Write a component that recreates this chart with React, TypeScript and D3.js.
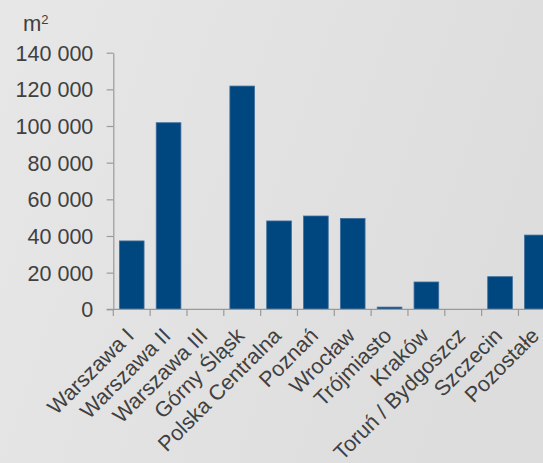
import React, { useEffect, useRef } from "react";
import * as d3 from "d3";

const categories = [
  "Warszawa I",
  "Warszawa II",
  "Warszawa III",
  "Górny Śląsk",
  "Polska Centralna",
  "Poznań",
  "Wrocław",
  "Trójmiasto",
  "Kraków",
  "Toruń / Bydgoszcz",
  "Szczecin",
  "Pozostałe",
];
const values = [37300, 101800, 0, 121800, 48200, 50900, 49600, 1200, 14900, 0, 17800, 40500];
const yTicks = [0, 20000, 40000, 60000, 80000, 100000, 120000, 140000];
const unitLabel = "m";
const unitSup = "2";

const W = 543;
const H = 463;
const FONT = "'Liberation Sans', Arial, Helvetica, sans-serif";
const TEXT = "#404040";
const AXIS = "#9a9a9a";
const BAR = "#00467f";

export default function App() {
  const yAxisRef = useRef<SVGGElement>(null);
  const x = d3
    .scaleBand<string>()
    .domain(categories)
    .range([113.3, 555.3])
    .paddingInner(0.33)
    .paddingOuter(0.165);
  const y = d3.scaleLinear().domain([0, 140000]).range([309.3, 52.7]);
  const step = x.step();
  const gap = (step - x.bandwidth()) / 2;

  useEffect(() => {
    if (!yAxisRef.current) return;
    const g = d3.select(yAxisRef.current);
    g.selectAll("*").remove();
    const axis = d3
      .axisLeft(y)
      .tickValues(yTicks)
      .tickSizeInner(6.6)
      .tickSizeOuter(0)
      .tickPadding(13.4)
      .tickFormat((d) => d3.format(",")(d as number).replace(/,/g, " "));
    g.call(axis);
    g.select(".domain").attr("stroke", AXIS).attr("stroke-width", 1.2);
    g.selectAll(".tick line").attr("stroke", AXIS).attr("stroke-width", 1.2);
    g.selectAll(".tick text")
      .attr("fill", TEXT)
      .attr("font-size", 21.5)
      .attr("font-family", FONT)
      .attr("dy", "0.35em");
  }, []);

  const boundaries = categories.map((c) => (x(c) as number) - gap);

  return (
    <svg
      width={W}
      height={H}
      style={{ position: "absolute", left: 0, top: 0, display: "block" }}
      fontFamily={FONT}
    >
      <defs>
        <linearGradient id="bg" x1="0" y1="0" x2="1" y2="0.3">
          <stop offset="0" stopColor="#e7e7e7" />
          <stop offset="0.5" stopColor="#e2e2e2" />
          <stop offset="1" stopColor="#dddddd" />
        </linearGradient>
      </defs>
      <rect x={0} y={0} width={W} height={H} fill="url(#bg)" />

      <text x={23} y={31} fontSize={22} fill={TEXT}>
        {unitLabel}
        <tspan fontSize={13} dy={-7}>
          {unitSup}
        </tspan>
      </text>

      {categories.map((c, i) => (
        <rect
          key={c}
          x={x(c)}
          y={y(values[i])}
          width={x.bandwidth()}
          height={y(0) - y(values[i])}
          fill={BAR}
          stroke="#3f6f9e"
          strokeWidth={0.8}
        />
      ))}

      <g ref={yAxisRef} transform={`translate(${x.range()[0]},0)`} />

      <line x1={106.7} x2={W} y1={y(0)} y2={y(0)} stroke={AXIS} strokeWidth={1.2} />
      {boundaries.map((bx, i) => (
        <line key={i} x1={bx} x2={bx} y1={y(0)} y2={y(0) + 6.6} stroke={AXIS} strokeWidth={1.2} />
      ))}

      {categories.map((c) => {
        const cx = (x(c) as number) + x.bandwidth() / 2;
        return (
          <text
            key={c}
            transform={`translate(${cx + 3.5},${337}) rotate(-45)`}
            textAnchor="end"
            fontSize={21.5}
            fill={TEXT}
          >
            {c}
          </text>
        );
      })}
    </svg>
  );
}
